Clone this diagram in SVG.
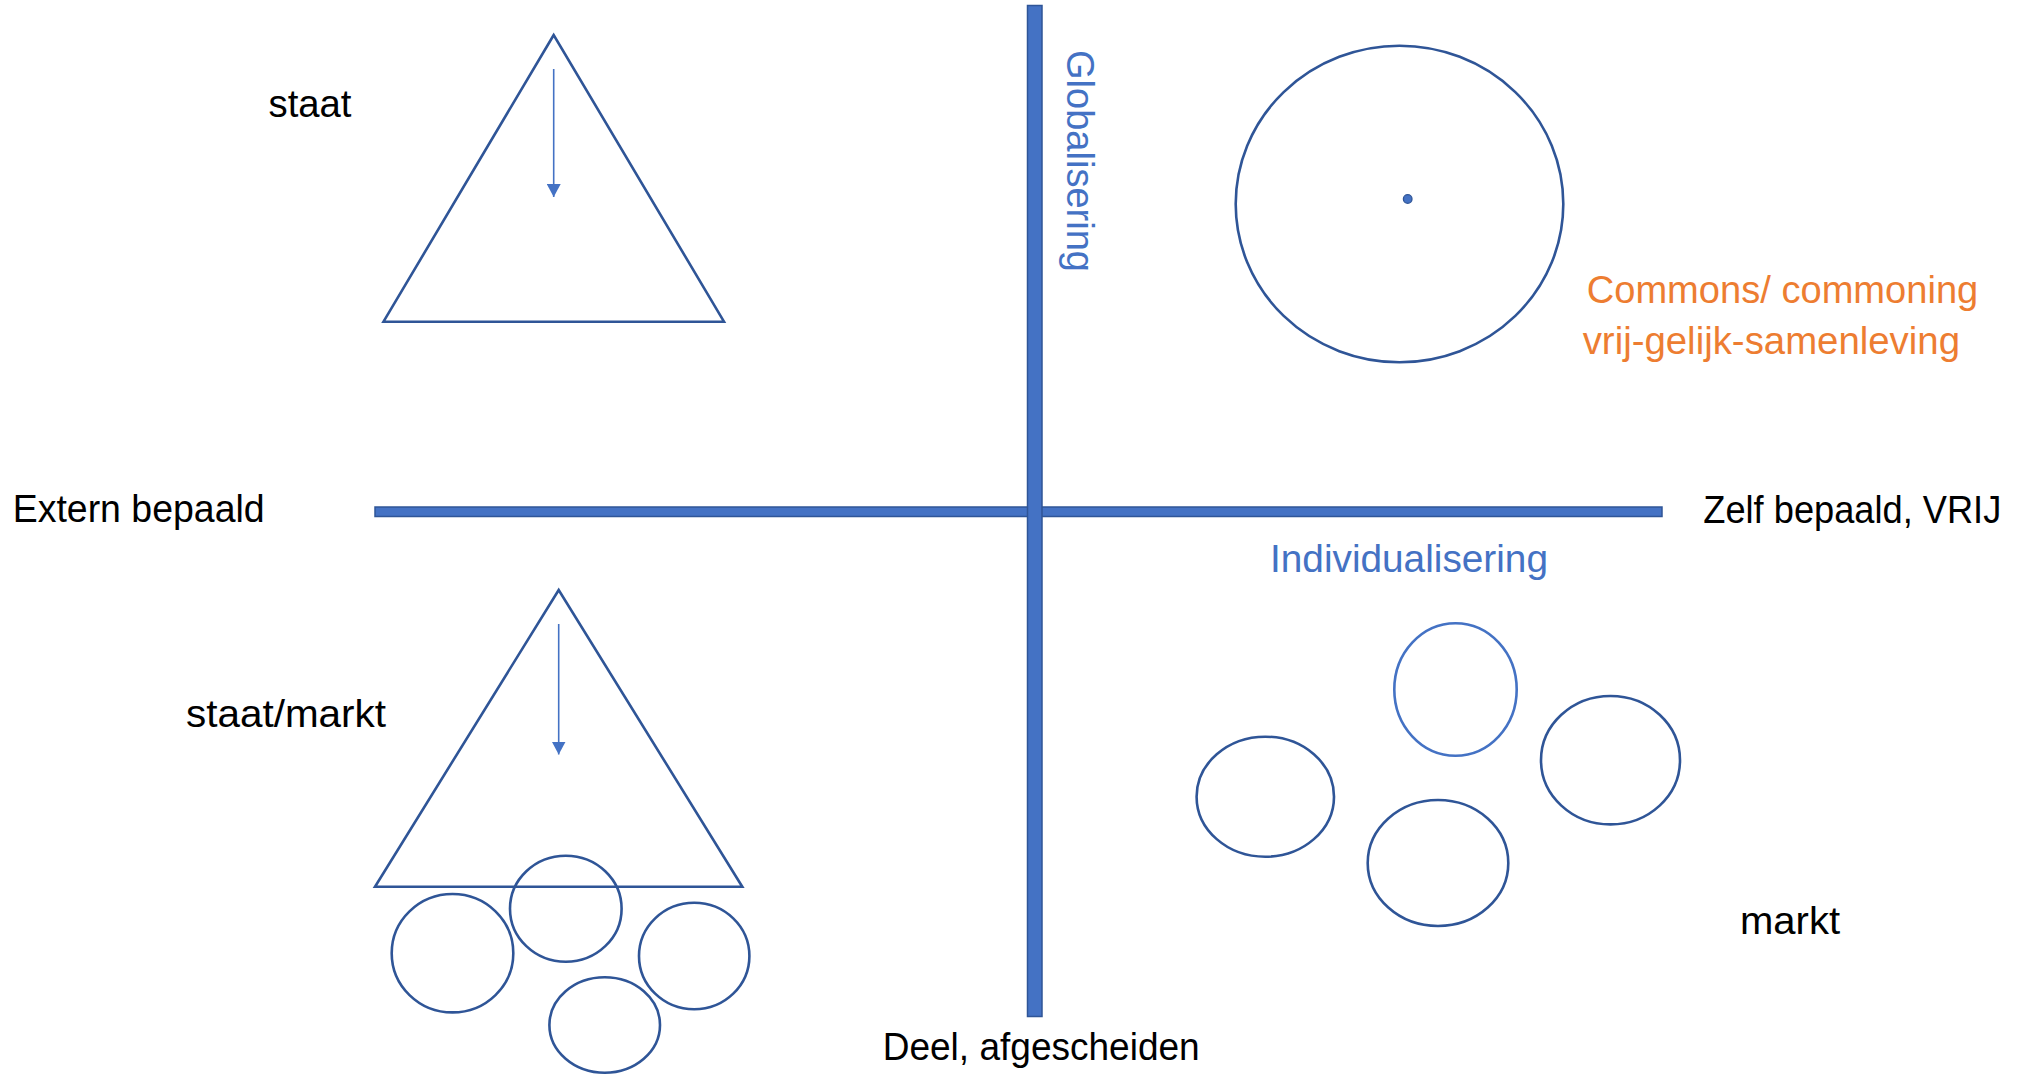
<svg xmlns="http://www.w3.org/2000/svg" width="2033" height="1075" viewBox="0 0 2033 1075">
<style>
.txt{font-family:"Liberation Sans",Arial,sans-serif;font-size:38px;fill:#000}
.blue{fill:#4472C4}
.orange{fill:#ED7D31}
.shape{fill:none;stroke:#2F5597;stroke-width:2.6}
.light{fill:none;stroke:#4472C4;stroke-width:2.6}
.bar{fill:#4472C4;stroke:#2F5597;stroke-width:1.5}
.arrow{stroke:#4472C4;stroke-width:1.6;fill:none}
</style>
<defs>
<marker id="ah" markerUnits="userSpaceOnUse" markerWidth="14" markerHeight="14" viewBox="0 0 14 14" refX="13" refY="7" orient="auto">
<path d="M0,0 L13,7 L0,14 Z" fill="#4472C4"/>
</marker>
</defs>
<rect width="2033" height="1075" fill="#fff"/>

<g id="axes">
<rect id="h-axis" class="bar" x="375" y="507" width="1287" height="9.5"/>
<rect id="v-axis" class="bar" x="1027.5" y="5.5" width="14.5" height="1011"/>
</g>

<g id="triangle-staat">
<polygon class="shape" points="553.7,35 383.5,321.7 724,321.7"/>
</g>
<g id="triangle-staat-markt">
<polygon class="shape" points="558.7,590 375,886.7 742.3,886.7"/>
</g>

<g id="connectors">
<line class="arrow" x1="553.7" y1="69" x2="553.7" y2="197" marker-end="url(#ah)"/>
<line class="arrow" x1="558.7" y1="624" x2="558.7" y2="754.5" marker-end="url(#ah)"/>
</g>

<g id="commons-circle">
<ellipse class="shape" cx="1399.5" cy="204" rx="163.8" ry="158.3"/>
<circle cx="1407.7" cy="199" r="4.3" fill="#4472C4" stroke="#2F5597" stroke-width="1.3"/>
</g>

<g id="left-circles">
<ellipse class="shape" cx="452.5" cy="953.2" rx="60.8" ry="59.2"/>
<ellipse class="shape" cx="565.8" cy="908.7" rx="55.8" ry="53"/>
<ellipse class="shape" cx="694.2" cy="956" rx="55.2" ry="53.3"/>
<ellipse class="shape" cx="604.7" cy="1025" rx="55.3" ry="47.7"/>
</g>

<g id="right-circles">
<ellipse class="shape" cx="1265.3" cy="796.7" rx="68.7" ry="60"/>
<ellipse class="light" cx="1455.5" cy="689.5" rx="61.2" ry="66.2"/>
<ellipse class="shape" cx="1610.5" cy="760.2" rx="69.5" ry="64.2"/>
<ellipse class="shape" cx="1438" cy="863" rx="70.3" ry="63"/>
</g>

<g id="labels">
<text class="txt" x="268.5" y="116.5" textLength="83" lengthAdjust="spacingAndGlyphs">staat</text>
<text class="txt" x="186" y="726.5" textLength="200" lengthAdjust="spacingAndGlyphs">staat/markt</text>
<text class="txt" x="1740" y="933.5" textLength="100" lengthAdjust="spacingAndGlyphs">markt</text>
<text class="txt" x="12.7" y="521.7" textLength="252" lengthAdjust="spacingAndGlyphs">Extern bepaald</text>
<text class="txt" x="1703.3" y="523.3" textLength="298" lengthAdjust="spacingAndGlyphs">Zelf bepaald, VRIJ</text>
<text class="txt" x="882.7" y="1060" textLength="317" lengthAdjust="spacingAndGlyphs">Deel, afgescheiden</text>
<text class="txt blue" x="1270" y="571.7" textLength="278" lengthAdjust="spacingAndGlyphs">Individualisering</text>
<text class="txt blue" transform="translate(1066.7,50) rotate(90)" x="0" y="0" textLength="222" lengthAdjust="spacingAndGlyphs">Globalisering</text>
<text class="txt orange" x="1586.7" y="303.3" textLength="391.6" lengthAdjust="spacingAndGlyphs">Commons/ commoning</text>
<text class="txt orange" x="1582.7" y="353.5" textLength="377.3" lengthAdjust="spacingAndGlyphs">vrij-gelijk-samenleving</text>
</g>
</svg>
